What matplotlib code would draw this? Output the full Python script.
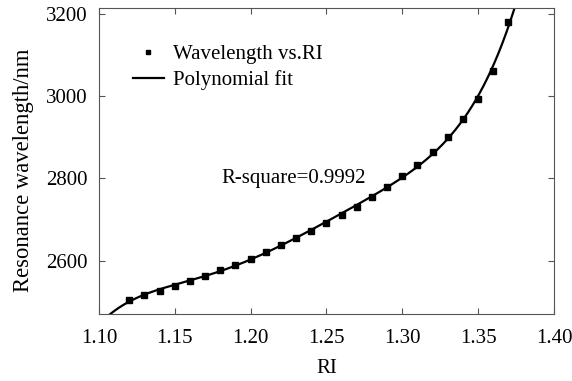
import numpy as np
import matplotlib
matplotlib.use("Agg")
import matplotlib.pyplot as plt

# measured resonance wavelength against refractive index
ri = [1.12, 1.13, 1.14, 1.15, 1.16, 1.17, 1.18, 1.19, 1.20, 1.21, 1.22, 1.23, 1.24,
      1.25, 1.26, 1.27, 1.28, 1.29, 1.30, 1.31, 1.32, 1.33, 1.34, 1.35, 1.36, 1.37]
wavelength = [2504, 2515, 2527, 2538, 2551, 2563, 2577, 2590, 2605, 2621, 2638, 2656, 2673,
              2691, 2710, 2731, 2755, 2780, 2806, 2833, 2865, 2901, 2944, 2993, 3061, 3182]
x_ticks = [1.10, 1.15, 1.20, 1.25, 1.30, 1.35, 1.40]
y_ticks = [2600, 2800, 3000, 3200]
r_square = 0.9992

plt.rcParams['font.family'] = ['Liberation Serif', 'DejaVu Serif']
plt.rcParams['font.size'] = 15

fig = plt.figure(figsize=(5.72, 3.81), dpi=100)
ax = fig.add_axes([0.173, 0.176, 0.7955, 0.803])

# polynomial fit through the measured points
coef = np.polyfit(ri, wavelength, 5)
xf = np.linspace(1.10, 1.40, 600)
yf = np.polyval(coef, xf)

ax.plot(ri, wavelength, 's', color='black', markersize=3.8, label='Wavelength vs.RI',
        zorder=3)
ax.plot(xf, yf, '-', color='black', linewidth=1.6, label='Polynomial fit')

ax.set_xlim(1.10, 1.40)
ax.set_ylim(2470, 3215)
ax.set_xticks(x_ticks)
ax.set_xticklabels([f'{v:.2f}' for v in x_ticks])
ax.set_yticks(y_ticks)
ax.tick_params(direction='in', top=True, right=True, length=4, width=0.8,
               color='#555555')
ax.tick_params(axis='x', pad=11)
ax.tick_params(axis='y', pad=8.5)
for s in ax.spines.values():
    s.set_color('#555555')
    s.set_linewidth(0.8)

ax.set_xlabel('RI', labelpad=8)
ax.set_ylabel('Resonance wavelength/nm', fontsize=16.3)
ax.yaxis.set_label_coords(-0.142, 0.47)

ax.text(1.1805, 2800, f'R-square={r_square}', ha='left', va='center')

ax.legend(loc='upper left', bbox_to_anchor=(0.056, 0.908), frameon=False,
          handlelength=1.5, handletextpad=0.45, labelspacing=0.28, borderaxespad=0,
          markerscale=0.9)

fig.savefig('out.png', dpi=100, facecolor='white')
